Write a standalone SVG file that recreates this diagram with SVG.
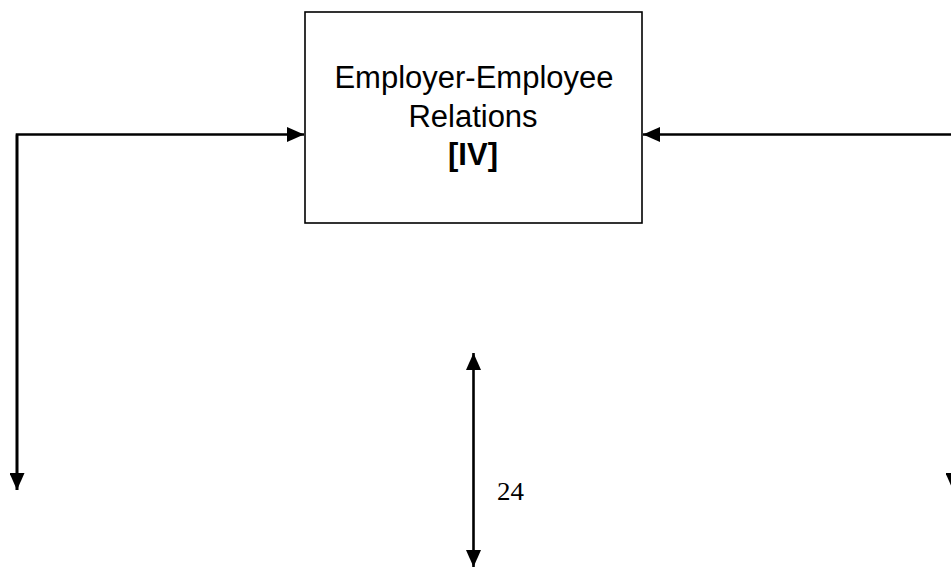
<svg xmlns="http://www.w3.org/2000/svg" width="951" height="567" viewBox="0 0 951 567">
<style>
.line{stroke:#000;stroke-width:2.6;fill:none}
.box{fill:#fff;stroke:#000;stroke-width:1.6}
.lbl{font-family:"Liberation Sans",Arial,sans-serif;font-size:31px;fill:#000;text-anchor:middle}
.num{font-family:"Liberation Serif","Times New Roman",serif;font-size:25px;fill:#000}
</style>
<defs>
<marker id="ah" markerWidth="17" markerHeight="15" refX="17" refY="7.5" orient="auto" markerUnits="userSpaceOnUse">
<path d="M0,0 L17,7.5 L0,15 Z" fill="#000"/>
</marker>
</defs>
<rect width="951" height="567" fill="#fff"/>
<g id="connectors">
<path class="line" d="M17,490 L17,134.5 L304,134.5" marker-end="url(#ah)"/>
<path class="line" d="M17,134.5 L17,490" marker-end="url(#ah)"/>
<path class="line" d="M953,134.5 L643,134.5" marker-end="url(#ah)"/>
<path class="line" d="M953,134.5 L953,490" marker-end="url(#ah)"/>
<path class="line" d="M473.5,460 L473.5,353" marker-end="url(#ah)"/>
<path class="line" d="M473.5,460 L473.5,567" marker-end="url(#ah)"/>
</g>
<g id="node-relations">
<rect class="box" x="305" y="12" width="337" height="211"/>
<text class="lbl" x="474" y="88">Employer-Employee</text>
<text class="lbl" x="473" y="127">Relations</text>
<text class="lbl" x="473" y="165" font-weight="bold">[IV]</text>
</g>
<g id="label-24">
<text class="num" x="497" y="500" textLength="27" lengthAdjust="spacingAndGlyphs">24</text>
</g>
</svg>
